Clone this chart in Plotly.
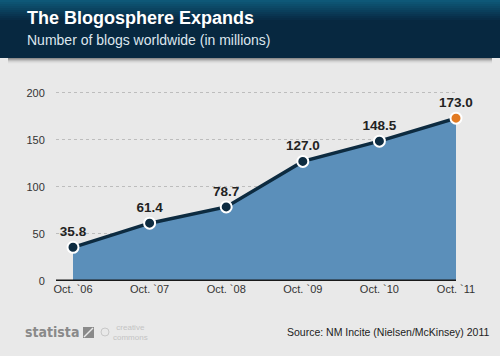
import plotly.graph_objects as go

categories = ["Oct. `06", "Oct. `07", "Oct. `08", "Oct. `09", "Oct. `10", "Oct. `11"]
blogs = [35.8, 61.4, 78.7, 127.0, 148.5, 173.0]
y_ticks = [0, 50, 100, 150, 200]

W, H = 500, 356
L, R, T, B = 56, 44, 88, 75
pw, ph = W - L - R, H - T - B

def px(x):
    return (x - L) / pw

def py(y):
    return (H - B - y) / ph

xs = list(range(len(categories)))
fig = go.Figure()
fig.add_trace(go.Scatter(
    x=xs, y=blogs, mode="lines", fill="tozeroy",
    fillcolor="#5b8fba", line=dict(color="#0d2b40", width=3.5),
    hoverinfo="skip", showlegend=False))
colors = ["#0d2b40"] * (len(blogs) - 1) + ["#e27a22"]
fig.add_trace(go.Scatter(
    x=xs, y=blogs, mode="markers+text",
    marker=dict(size=11, color=colors, line=dict(color="white", width=2)),
    text=[f"{v:.1f}" for v in blogs], textposition="top center",
    textfont=dict(family="Liberation Sans, Arial", size=13.5, color="#222222", weight="bold"),
    cliponaxis=False, showlegend=False, hoverinfo="skip"))

shapes = []
# header gradient
top_c = (14, 88, 120)
bot_c = (8, 44, 70)
n = 10
for i in range(n):
    t = i / (n - 1)
    c = tuple(int(top_c[k] + (bot_c[k] - top_c[k]) * t) for k in range(3))
    y0 = i * 2
    shapes.append(dict(type="rect", xref="paper", yref="paper",
                       x0=px(0), x1=px(W), y0=py(y0 + 2), y1=py(y0),
                       fillcolor=f"rgb{c}", line=dict(width=0), layer="below"))
shapes.append(dict(type="rect", xref="paper", yref="paper",
                   x0=px(0), x1=px(W), y0=py(58), y1=py(20),
                   fillcolor="rgb(7,40,64)", line=dict(width=0), layer="below"))
# shadow
for i, g in enumerate([140, 165, 190, 210, 222, 230]):
    shapes.append(dict(type="rect", xref="paper", yref="paper",
                       x0=px(8), x1=px(W - 8), y0=py(58 + i + 1), y1=py(58 + i),
                       fillcolor=f"rgb({g},{g},{g})", line=dict(width=0), layer="below"))
# axis baseline
shapes.append(dict(type="line", xref="paper", yref="y", x0=0, x1=1, y0=0, y1=0,
                   line=dict(color="#1a1a1a", width=3)))

annotations = [
    dict(text="<b>The Blogosphere Expands</b>", x=px(25), y=py(18), xref="paper", yref="paper",
         xanchor="left", yanchor="middle", showarrow=False,
         font=dict(family="Liberation Sans, Arial", size=18, color="white")),
    dict(text="Number of blogs worldwide (in millions)", x=px(25), y=py(40), xref="paper", yref="paper",
         xanchor="left", yanchor="middle", showarrow=False,
         font=dict(family="Liberation Sans, Arial", size=14, color="#dde6ee")),
    dict(text="<b>statista</b>", x=px(23), y=py(332), xref="paper", yref="paper",
         xanchor="left", yanchor="middle", showarrow=False,
         font=dict(family="DejaVu Sans Condensed, DejaVu Sans", size=14, color="#8a8a8a")),
    dict(text="creative<br>commons", x=px(111), y=py(332), xref="paper", yref="paper",
         xanchor="left", yanchor="middle", showarrow=False,
         font=dict(family="Liberation Sans, Arial", size=8, color="#c4c4c4")),
    dict(text="Source: NM Incite (Nielsen/McKinsey) 2011", x=px(285), y=py(332), xref="paper", yref="paper",
         xanchor="left", yanchor="middle", showarrow=False,
         font=dict(family="Liberation Sans, Arial", size=10.5, color="#222222")),
]
# statista logo square
shapes.append(dict(type="rect", xref="paper", yref="paper",
                   x0=px(83), x1=px(94), y0=py(338), y1=py(327),
                   fillcolor="#8a8a8a", line=dict(width=0)))
shapes.append(dict(type="line", xref="paper", yref="paper",
                   x0=px(84), x1=px(93), y0=py(337), y1=py(328),
                   line=dict(color="#e9e9e9", width=1.5)))
shapes.append(dict(type="circle", xref="paper", yref="paper",
                   x0=px(101), x1=px(109), y0=py(336), y1=py(328),
                   fillcolor="rgba(0,0,0,0)", line=dict(color="#c8c8c8", width=1)))

fig.update_layout(
    width=W, height=H,
    margin=dict(l=L, r=R, t=T, b=B, pad=0),
    paper_bgcolor="#e9e9e9", plot_bgcolor="#e9e9e9",
    shapes=shapes, annotations=annotations,
    xaxis=dict(range=[-0.222, 5.0], tickmode="array", tickvals=xs, ticktext=categories,
               showgrid=False, zeroline=False, showline=False, ticks="", fixedrange=True,
               tickfont=dict(family="Liberation Sans, Arial", size=11, color="#333333")),
    yaxis=dict(range=[0, 205], tickmode="array", tickvals=y_ticks, fixedrange=True,
               showgrid=True, gridcolor="#bdbdbd", griddash="dot", gridwidth=1,
               zeroline=False, showline=False, ticks="outside", ticklen=8, tickcolor="rgba(0,0,0,0)",
               tickfont=dict(family="Liberation Sans, Arial", size=11, color="#333333")),
)

fig.write_html("out.html", config={"displayModeBar": False},
               post_script="document.body.style.margin='0';document.body.style.background='#e9e9e9';")
